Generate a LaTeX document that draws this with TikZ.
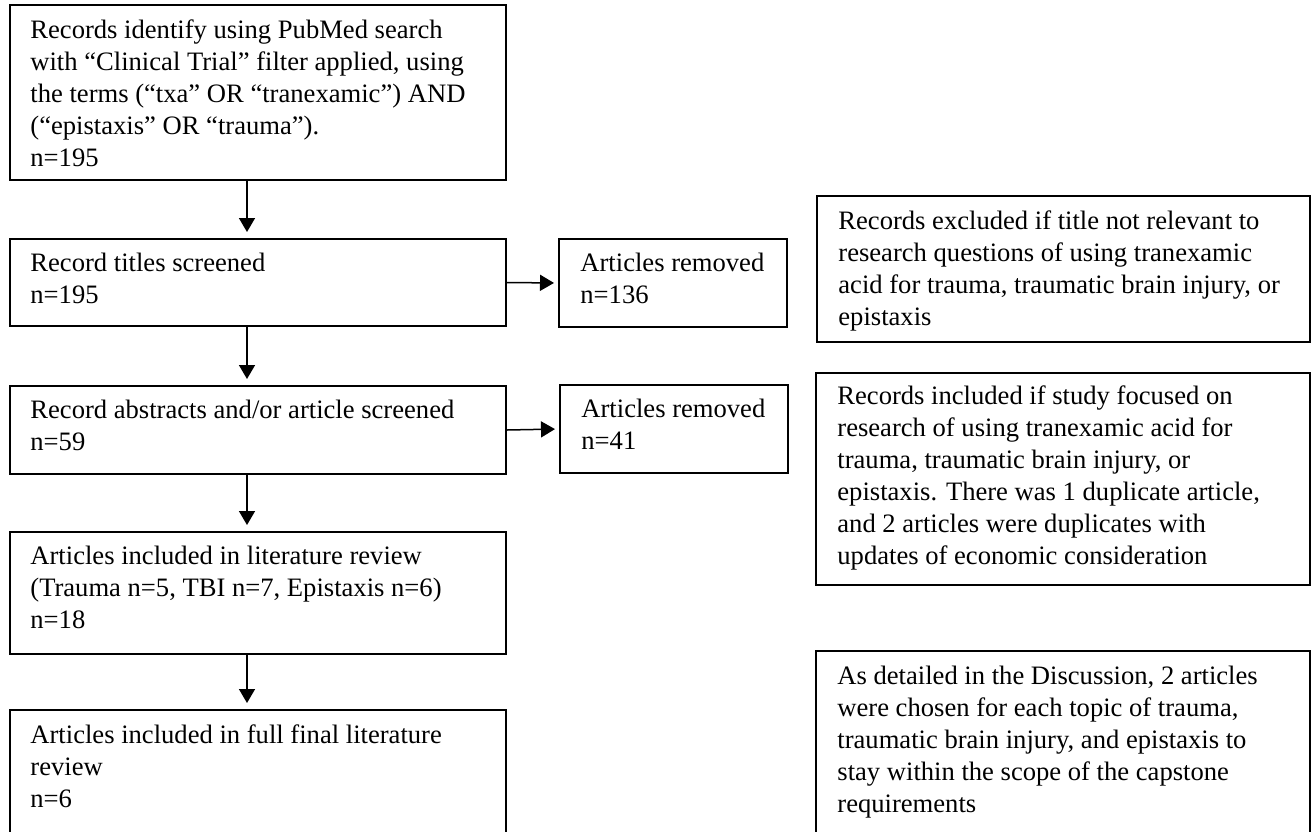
\documentclass[tikz,border=0pt]{standalone}
\usepackage{fontspec}
\setmainfont{Liberation Serif}
\usetikzlibrary{arrows.meta}
\begin{document}
\begin{tikzpicture}[x=0.5pt,y=-0.5pt,
  frame/.style={draw=black, line width=1pt, inner sep=0pt},
  txt/.style={anchor=north west, inner sep=0pt, align=left,
    font=\fontsize{13.3}{16}\selectfont,
    execute at begin node={\rule{0pt}{11pt}}},
  arr/.style={-{Triangle[length=7pt,width=8pt]}, line width=0.75pt, shorten >=3pt}]
\clip (0,0) rectangle (1312,831);
\fill[white] (0,0) rectangle (1312,831);
% left column boxes
\node[frame, minimum width=248pt, minimum height=87.5pt] (b1) at (258,92.5) {};
\node[frame, minimum width=248pt, minimum height=43.5pt] (b2) at (258,282.5) {};
\node[frame, minimum width=248pt, minimum height=44pt] (b3) at (258,430) {};
\node[frame, minimum width=248pt, minimum height=61pt] (b4) at (258,593) {};
\node[frame, minimum width=248pt, minimum height=95pt] (b5) at (258,805) {};
% removed boxes
\node[frame, minimum width=114pt, minimum height=44pt] (ar1) at (673,283) {};
\node[frame, minimum width=114pt, minimum height=44pt] (ar2) at (674,429) {};
% right column boxes
\node[frame, minimum width=246.5pt, minimum height=73pt] (ex) at (1063.5,269) {};
\node[frame, minimum width=247pt, minimum height=106pt] (in) at (1063,479) {};
\node[frame, minimum width=247pt, minimum height=124.5pt] (di) at (1063,775.5) {};
% texts
\node[txt] (t1) at (30,19) {Records identify using PubMed search\\with “Clinical Trial” filter applied, using\\the terms (“txa” OR “tranexamic”) AND\\(“epistaxis” OR “trauma”).\\n=195};
\node[txt] (t2) at (30,253) {Record titles screened\\n=195};
\node[txt] (t3) at (30,400) {Record abstracts and/or article screened\\n=59};
\node[txt] (t4) at (30,546) {Articles included in literature review\\(Trauma n=5, TBI n=7, Epistaxis n=6)\\n=18};
\node[txt] (t5) at (30,724) {Articles included in full final literature\\review\\n=6};
\node[txt] (tr1) at (580,253) {Articles removed\\n=136};
\node[txt] (tr2) at (581,399) {Articles removed\\n=41};
\begin{scope}
\clip (817,196) rectangle (1310,331);
\node[txt] (tex) at (838,210) {Records excluded if title not relevant to\\research questions of using tranexamic\\acid for trauma, traumatic brain injury, or\\epistaxis};
\end{scope}
\begin{scope}
\clip (816,373) rectangle (1310,570);
\node[txt] (tin) at (837,385) {Records included if study focused on\\research of using tranexamic acid for\\trauma, traumatic brain injury, or\\epistaxis. There was 1 duplicate article,\\and 2 articles were duplicates with\\updates of economic consideration};
\end{scope}
\node[txt] (tdi) at (837,666) {As detailed in the Discussion, 2 articles\\were chosen for each topic of trauma,\\traumatic brain injury, and epistaxis to\\stay within the scope of the capstone\\requirements};
% connectors
\coordinate (ax) at (247,0);
\draw[arr] (b1.south -| ax) -- (b2.north -| ax);
\draw[arr] (b2.south -| ax) -- (b3.north -| ax);
\draw[arr] (b3.south -| ax) -- (b4.north -| ax);
\draw[arr] (b4.south -| ax) -- (b5.north -| ax);
\draw[arr, shorten >=2pt] (b2.east) -- (ar1.west);
\draw[arr, shorten >=2pt] (b3.east) -- (ar2.west);
\end{tikzpicture}
\end{document}
